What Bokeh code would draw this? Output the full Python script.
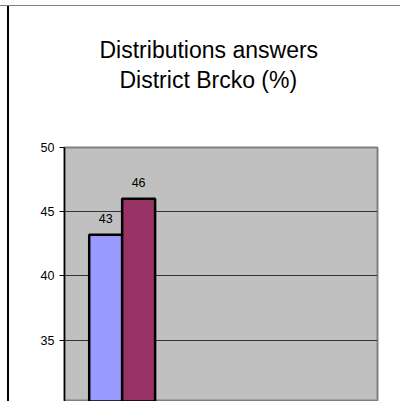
from bokeh.plotting import figure
from bokeh.models import Range1d, ColumnDataSource, LabelSet, Title, SingleIntervalTicker
from bokeh.core.properties import value
from bokeh.embed import file_html
from bokeh.resources import INLINE

# ---- data ----
title_lines = ["Distributions answers", "District Brcko (%)"]
series_names = ["Series 1", "Series 2"]
series_values = [43.2, 46.0]
series_labels = ["43", "46"]
series_colors = ["#9999FF", "#993366"]
y_tick_interval = 5

FONT = "Liberation Sans"

src = ColumnDataSource(dict(
    x=list(range(len(series_names))),
    top=series_values,
    lab=series_labels,
    color=series_colors,
    name=series_names,
))

p = figure(width=400, height=401, output_backend="svg", toolbar_location=None,
           x_range=Range1d(-1.25, 8.25), y_range=Range1d(30.22, 50),
           min_border_left=64, min_border_right=23, min_border_top=147,
           min_border_bottom=0, x_axis_location=None)
p.styles = {
    "background-color": "white",
    "background-image": "linear-gradient(#808080,#808080), linear-gradient(#000000,#000000)",
    "background-size": "100% 1px, 2px 100%",
    "background-position": "0px 5px, 7px 5px",
    "background-repeat": "no-repeat",
}

p.background_fill_color = "#C0C0C0"
p.border_fill_color = None
p.outline_line_color = "#808080"
p.outline_line_width = 2

p.xgrid.visible = False
p.ygrid.grid_line_color = "#333333"
p.ygrid.grid_line_width = 1

ax = p.yaxis[0]
ax.ticker = SingleIntervalTicker(interval=y_tick_interval)
ax.axis_line_color = "black"
ax.axis_line_width = 1.5
ax.major_tick_line_color = "black"
ax.major_tick_line_width = 1
ax.major_tick_out = 5
ax.major_tick_in = 0
ax.minor_tick_out = 0
ax.minor_tick_in = 0
ax.major_label_standoff = 5
ax.major_label_text_font = FONT
ax.major_label_text_font_size = "12.5px"
ax.major_label_text_color = "black"

p.vbar(x="x", top="top", bottom=0, width=1, source=src,
       fill_color="color", line_color="black", line_width=2.5)

labels = LabelSet(x="x", y="top", text="lab", source=src, y_offset=12,
                  text_align="center", text_baseline="alphabetic",
                  text_font=value(FONT), text_font_size=value("12.5px"),
                  text_color="black")
p.add_layout(labels)

# title: spacer nearest the frame, then the two lines (stacked upward)
p.add_layout(Title(text=" ", text_font_size="10px", standoff=41), "above")
offsets = [35, 55]
for line, off in reversed(list(zip(title_lines, offsets))):
    p.add_layout(Title(text=line, align="left", offset=off, standoff=2,
                       text_font=FONT, text_font_size="23px",
                       text_font_style="normal", text_color="black"), "above")

open("out.html", "w").write(file_html(p, INLINE))
